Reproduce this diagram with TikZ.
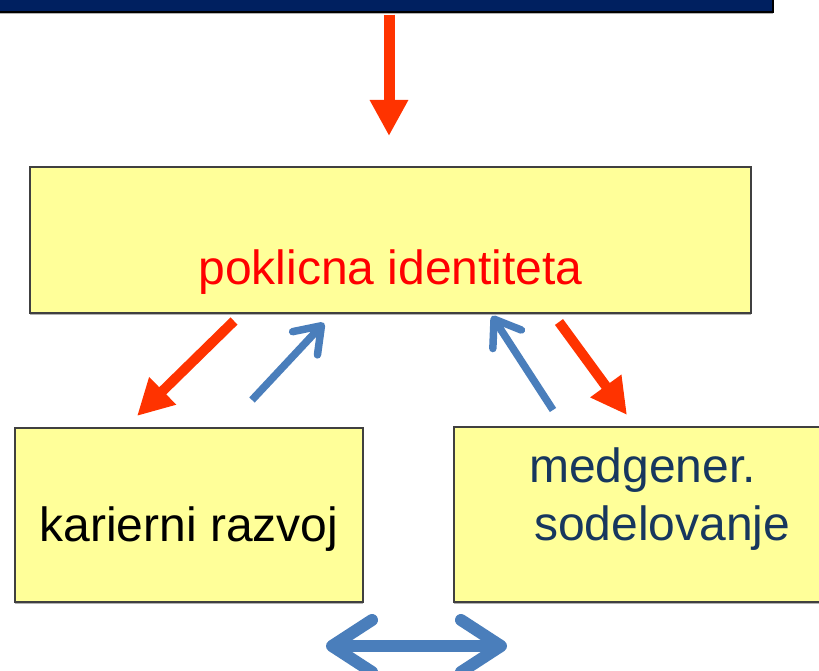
\documentclass[tikz,border=0pt]{standalone}
\usepackage{fontspec}
\setmainfont{Liberation Sans}
\usetikzlibrary{arrows.meta,shadows}
\definecolor{navy}{HTML}{002060}
\definecolor{arrred}{HTML}{FF3300}
\definecolor{arrblue}{HTML}{4A7EBB}
\definecolor{boxyellow}{HTML}{FFFF99}
\definecolor{textnavy}{HTML}{17375E}
\begin{document}
\begin{tikzpicture}[x=1pt,y=-1pt,
				box/.style={rectangle,draw=black!75,line width=1.2pt,fill=boxyellow,inner sep=0pt,outer sep=0pt,
					drop shadow={shadow xshift=0pt,shadow yshift=-2pt,fill=black!30,opacity=1}},
				label/.style={inner sep=0pt,font=\fontsize{48}{58}\selectfont},
				redarrow/.style={draw=arrred,line width=10pt,-{Triangle[length=36pt,width=36pt]}},
				bluearrow/.style={draw=arrblue,line width=7.5pt,line cap=butt,-{Straight Barb[length=24pt,width=34pt,round]}}]
\useasboundingbox (0,0) rectangle (819,671);
\node[rectangle,draw=black,line width=1.2pt,fill=navy,minimum width=778pt,minimum height=42pt,inner sep=0pt,
	drop shadow={shadow xshift=0pt,shadow yshift=-2pt,fill=black!30,opacity=1}] (top) at (384,-9) {};
\node[box,minimum width=721pt,minimum height=146pt] (ident) at (390.5,240) {};
\node[box,minimum width=348pt,minimum height=174pt] (career) at (189,515) {};
\node[box,minimum width=376pt,minimum height=175pt] (collab) at (642,514.5) {};
% texts
\node[label,text=red,anchor=base] (identtext) at ([yshift=-44pt]ident.center) {poklicna identiteta};
\node[label,anchor=base] (careertext) at ([yshift=-26pt]career.center) {karierni razvoj};
\node[label,text=textnavy,align=left,anchor=north west] (collabtext) at ([xshift=75pt,yshift=-21pt]collab.north west)
	{medgener.\\\hspace*{5pt}sodelovanje};
% arrows
\draw[draw=arrred,line width=11pt,-{Triangle[length=36pt,width=36pt]}]
	([xshift=5pt,yshift=-2pt]top.south) -- ([xshift=-1.5pt,yshift=31pt]ident.north);
\draw[redarrow] ([xshift=204pt,yshift=-8pt]ident.south west) -- ([xshift=122pt,yshift=12pt]career.north west);
\draw[bluearrow] ([xshift=237pt,yshift=28pt]career.north west) -- ([xshift=294pt,yshift=-10pt]ident.south west);
\draw[bluearrow] ([xshift=99pt,yshift=17pt]collab.north west) -- ([xshift=462pt,yshift=-3pt]ident.south west);
\draw[redarrow] ([xshift=529pt,yshift=-9pt]ident.south west) -- ([xshift=173pt,yshift=12pt]collab.north west);
\draw[draw=arrblue,line width=12pt,{Straight Barb[length=40pt,width=52pt,round]}-{Straight Barb[length=40pt,width=52pt,round]}]
	([xshift=-37pt,yshift=-44pt]career.south east) -- ([xshift=53pt,yshift=-44pt]collab.south west);
\end{tikzpicture}
\end{document}
